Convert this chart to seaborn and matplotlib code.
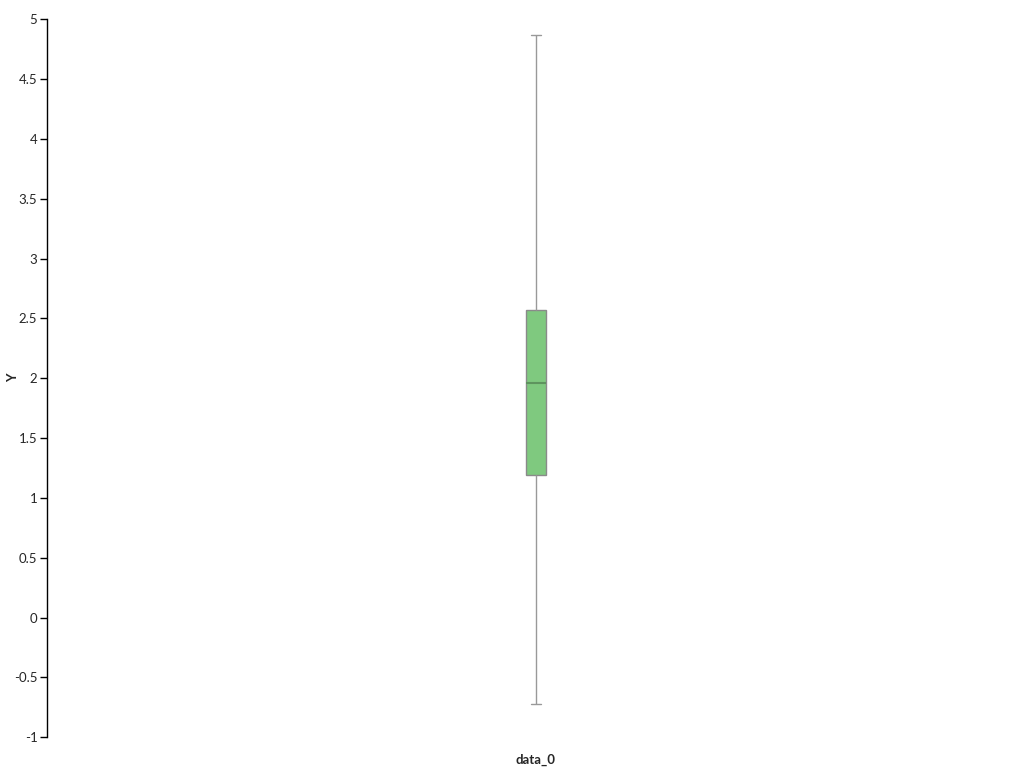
import pandas as pd
import matplotlib
matplotlib.use('Agg')
import matplotlib.pyplot as plt
import matplotlib.ticker as mticker
import seaborn as sns

# datos: resumen de cinco números
categoria = ['data_0']
valores = [-0.72, 1.19, 1.96, 2.57, 4.87]
ticks_y = [-1, -0.5, 0, 0.5, 1, 1.5, 2, 2.5, 3, 3.5, 4, 4.5, 5]

df = pd.DataFrame({'serie': categoria * len(valores), 'Y': valores})

sns.set_style('white')
plt.rcParams['font.family'] = ['Lato', 'DejaVu Sans']
plt.rcParams['axes.unicode_minus'] = False

fig = plt.figure(figsize=(10.24, 7.68), dpi=100)
ax = fig.add_axes([0.046, 0.04, 0.954, 0.935])

sns.boxplot(
    data=df, x='serie', y='Y',
    color='#7fc97f', saturation=1,
    width=0.0205, whis=(0, 100),
    linecolor='#999999', linewidth=1,
    medianprops={'color': '#5e945e', 'linewidth': 1.5},
    boxprops={'edgecolor': '#8a8a8a'},
    ax=ax,
)

ax.set_xlim(-0.5, 0.5)
ax.set_ylim(-1, 5)
ax.set_yticks(ticks_y)
ax.yaxis.set_major_formatter(mticker.FormatStrFormatter('%g'))
ax.tick_params(axis='y', length=5, width=1, color='black', labelsize=9.5, pad=2, left=True)
ax.tick_params(axis='x', length=0, labelbottom=False)

for lado in ['top', 'right', 'bottom']:
    ax.spines[lado].set_visible(False)
ax.spines['left'].set_color('black')
ax.spines['left'].set_linewidth(1)

ax.set_xlabel('data_0', fontsize=9.5, fontweight='bold', labelpad=12)
ax.set_ylabel('Y', fontsize=9.5, fontweight='bold')
ax.yaxis.set_label_coords(-0.029, 0.5)

fig.savefig('out.png', dpi=100)
plt.close()
